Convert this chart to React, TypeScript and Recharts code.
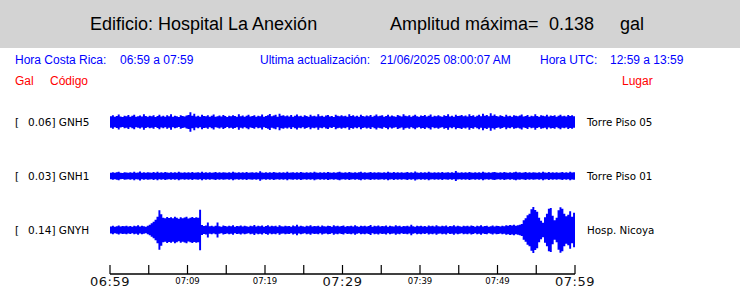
import React from 'react';
import { AreaChart, Area, XAxis, YAxis, LineChart } from 'recharts';

const STATIONS = ['GNH5', 'GNH1', 'GNYH'];
const PLACES = ['Torre Piso 05', 'Torre Piso 01', 'Hosp. Nicoya'];
const PEAKS = ['0.06', '0.03', '0.14'];

// minutes after 06:59, one tick every 5 min
const TIME_TICKS = [0, 5, 10, 15, 20, 25, 30, 35, 40, 45, 50, 55, 60];
const TICK_LABELS = ['06:59', '', '07:09', '', '07:19', '', '07:29', '', '07:39', '', '07:49', '', '07:59'];
const MAJOR_LABELS = ['06:59', '07:29', '07:59'];

const BIN_MIN = 0.25; // 15 s per bin, 240 bins

// envelope half-amplitude per bin, milligal
const GNH5 = [
  34, 40, 31, 36, 45, 33, 30, 38, 35, 42,
  32, 37, 44, 31, 35, 39, 33, 47, 36, 31,
  38, 34, 41, 30, 36, 43, 33, 37, 31, 40,
  35, 46, 32, 38, 34, 30, 41, 36, 33, 39,
  42, 58, 37, 49, 33, 38, 31, 44, 36, 34,
  40, 32, 37, 45, 31, 35, 39, 33, 42, 36,
  30, 38, 34, 41, 36, 32, 47, 35, 39, 31,
  37, 43, 33, 36, 40, 31, 38, 34, 45, 32,
  36, 41, 48, 34, 39, 44, 32, 50, 37, 41,
  35, 39, 33, 42, 31, 37, 45, 34, 38, 32,
  40, 36, 31, 43, 35, 38, 33, 46, 34, 37,
  31, 39, 42, 33, 36, 30, 44, 37, 35, 40,
  34, 38, 32, 47, 36, 41, 33, 37, 31, 43,
  36, 33, 39, 35, 42, 31, 38, 45, 34, 37,
  40, 32, 36, 44, 33, 39, 35, 31, 42, 37,
  33, 46, 38, 34, 40, 32, 37, 43, 35, 31,
  39, 36, 42, 33, 37, 45, 31, 38, 34, 41,
  35, 32, 40, 36, 47, 33, 38, 31, 44, 36,
  37, 42, 34, 39, 33, 46, 36, 41, 32, 38,
  44, 35, 49, 37, 42, 34, 52, 38, 45, 36,
  33, 40, 36, 31, 43, 35, 38, 32, 41, 37,
  34, 39, 45, 33, 36, 42, 31, 38, 35, 47,
  36, 32, 40, 37, 34, 43, 33, 39, 36, 41,
  32, 38, 44, 35, 37, 33, 42, 36, 40, 34,
];

const GNH1 = [
  20, 23, 19, 22, 26, 20, 18, 23, 21, 19,
  22, 20, 25, 19, 21, 27, 20, 23, 19, 22,
  21, 19, 24, 20, 26, 19, 22, 20, 24, 21,
  19, 23, 20, 22, 19, 25, 21, 20, 23, 19,
  22, 20, 24, 19, 21, 23, 20, 26, 19, 22,
  20, 23, 19, 21, 24, 20, 22, 19, 23, 21,
  19, 22, 20, 25, 21, 19, 23, 20, 22, 19,
  24, 20, 21, 23, 19, 22, 20, 28, 21, 19,
  23, 20, 22, 19, 24, 21, 20, 23, 19, 22,
  20, 25, 19, 21, 23, 20, 22, 19, 24, 21,
  20, 23, 19, 22, 20, 25, 21, 19, 23, 20,
  22, 19, 24, 21, 20, 23, 19, 22, 25, 21,
  19, 22, 20, 24, 21, 19, 23, 20, 22, 26,
  20, 23, 19, 21, 24, 20, 22, 19, 23, 21,
  19, 22, 20, 25, 21, 19, 24, 20, 22, 19,
  23, 20, 21, 24, 19, 22, 20, 27, 21, 19,
  22, 20, 23, 19, 25, 21, 20, 23, 19, 22,
  20, 24, 19, 21, 23, 20, 22, 19, 30, 21,
  19, 23, 20, 22, 20, 24, 21, 19, 23, 20,
  22, 19, 25, 21, 20, 23, 19, 22, 24, 21,
  20, 22, 19, 24, 21, 19, 23, 20, 22, 25,
  21, 23, 19, 21, 24, 20, 22, 19, 23, 21,
  19, 22, 20, 25, 21, 19, 24, 20, 22, 19,
  23, 20, 21, 24, 19, 22, 20, 26, 21, 23,
];

const GNYH = [
  21, 25, 20, 23, 27, 21, 24, 22, 26, 21,
  24, 20, 26, 22, 29, 21, 25, 23, 20, 26,
  32, 40, 50, 62, 80, 118, 95, 74, 70, 78,
  72, 76, 70, 79, 73, 68, 77, 71, 75, 80,
  69, 74, 78, 72, 76, 73, 122, 30, 24, 27,
  45, 22, 26, 21, 25, 45, 23, 20, 27, 24,
  21, 26, 23, 28, 20, 24, 22, 27, 21, 25,
  23, 20, 26, 22, 30, 21, 25, 23, 27, 20,
  24, 28, 21, 25, 22, 26, 20, 29, 23, 21,
  26, 22, 24, 20, 27, 23, 31, 21, 25, 22,
  20, 25, 23, 28, 21, 24, 22, 26, 20, 27,
  23, 21, 26, 24, 20, 29, 22, 25, 21, 24,
  27, 20, 24, 22, 26, 21, 28, 23, 20, 25,
  22, 26, 21, 24, 30, 20, 25, 23, 27, 21,
  24, 22, 27, 20, 25, 23, 21, 28, 22, 26,
  20, 24, 22, 26, 21, 31, 23, 20, 25, 22,
  26, 21, 24, 20, 27, 23, 25, 21, 28, 22,
  21, 25, 23, 27, 20, 24, 22, 29, 21, 26,
  23, 20, 26, 22, 25, 21, 27, 24, 20, 25,
  22, 28, 21, 24, 26, 20, 23, 27, 21, 25,
  24, 21, 26, 23, 28, 25, 30, 27, 32, 26,
  29, 31, 36, 58, 70, 88, 98, 124, 138, 120,
  110, 74, 56, 44, 76, 98, 128, 132, 86, 58,
  74, 118, 136, 128, 98, 82, 92, 112, 80, 104,
];

const TRACES = [GNH5, GNH1, GNYH];

const toRows = (amps: number[]) => {
  const rows = amps.map((a, i) => ({ t: i * BIN_MIN, band: [-a / 1000, a / 1000] }));
  rows.push({ t: amps.length * BIN_MIN, band: rows[rows.length - 1].band });
  return rows;
};

const axisRows = TIME_TICKS.map((t) => ({ t }));

const BLUE = '#0000ff';
const RED = '#ff0000';
const SANS = '"Liberation Sans", Arial, sans-serif';
const DEJAVU = '"DejaVu Sans", sans-serif';

const PLOT_LEFT = 110;
const PLOT_WIDTH = 465;
const TRACE_H = 60;
const TRACE_CENTERS = [122, 176, 230];

const TimeTick = (props: any) => {
  const { x, y, payload } = props;
  const label = TICK_LABELS[TIME_TICKS.indexOf(payload.value)];
  const major = MAJOR_LABELS.includes(label);
  return (
    <g>
      <line x1={x} x2={x} y1={y} y2={y - 9} stroke="#000" strokeWidth={1.2} />
      {label ? (
        <text
          x={x}
          y={y + (major ? 12 : 9.5)}
          textAnchor="middle"
          fontSize={major ? 13 : 8.5}
          fontFamily={DEJAVU}
          fill={major ? '#111' : '#000'}
          letterSpacing={major ? 0.5 : 0}
        >
          {label}
        </text>
      ) : null}
    </g>
  );
};

export default function App() {
  return (
    <div style={{ position: 'absolute', left: 0, top: 0, width: 740, height: 288, background: '#fff', overflow: 'hidden' }}>
      <svg width={740} height={288} style={{ position: 'absolute', left: 0, top: 0 }}>
        <rect x={0} y={0} width={740} height={48} fill="#d3d3d3" />
        <g fontFamily={SANS} fontSize={18} fill="#000">
          <text x={90} y={29.5}>Edificio: Hospital La Anexión</text>
          <text x={390} y={29.5}>Amplitud máxima=</text>
          <text x={549} y={29.5}>0.138</text>
          <text x={620} y={29.5}>gal</text>
        </g>
        <g fontFamily={SANS} fontSize={12} fill={BLUE}>
          <text x={15} y={64}>Hora Costa Rica:</text>
          <text x={120} y={64}>06:59 a 07:59</text>
          <text x={260} y={64}>Ultima actualización:</text>
          <text x={380} y={64}>21/06/2025 08:00:07 AM</text>
          <text x={540} y={64}>Hora UTC:</text>
          <text x={610} y={64}>12:59 a 13:59</text>
        </g>
        <g fontFamily={SANS} fontSize={12} fill={RED}>
          <text x={15} y={85}>Gal</text>
          <text x={50} y={85}>Código</text>
          <text x={622} y={85}>Lugar</text>
        </g>
        <g fontFamily={DEJAVU} fontSize={10.5} fill="#000">
          {STATIONS.map((s, i) => (
            <g key={s}>
              <text x={15} y={TRACE_CENTERS[i] + 4}>[</text>
              <text x={28} y={TRACE_CENTERS[i] + 4}>{`${PEAKS[i]}] ${s}`}</text>
              <text x={587} y={TRACE_CENTERS[i] + 4} fontSize={10.3}>{PLACES[i]}</text>
            </g>
          ))}
        </g>
      </svg>

      {TRACES.map((amps, i) => (
        <div
          key={STATIONS[i]}
          style={{ position: 'absolute', left: PLOT_LEFT, top: TRACE_CENTERS[i] - TRACE_H / 2, width: PLOT_WIDTH, height: TRACE_H }}
        >
          <AreaChart width={PLOT_WIDTH} height={TRACE_H} data={toRows(amps)} margin={{ top: 0, right: 0, bottom: 0, left: 0 }}>
            <XAxis dataKey="t" type="number" domain={[0, 60]} hide />
            <YAxis type="number" domain={[-0.18, 0.18]} hide allowDataOverflow />
            <Area
              dataKey="band"
              type="stepAfter"
              stroke="none"
              fill={BLUE}
              fillOpacity={1}
              isAnimationActive={false}
            />
          </AreaChart>
        </div>
      ))}

      <div style={{ position: 'absolute', left: PLOT_LEFT - 50, top: 250, width: PLOT_WIDTH + 100, height: 38 }}>
        <LineChart width={PLOT_WIDTH + 100} height={38} data={axisRows} margin={{ top: 0, right: 50, bottom: 0, left: 50 }}>
          <XAxis
            dataKey="t"
            type="number"
            domain={[0, 60]}
            ticks={TIME_TICKS}
            interval={0}
            height={14}
            tickSize={0}
            tickMargin={0}
            tickLine={false}
            axisLine={{ stroke: '#000', strokeWidth: 1.5 }}
            tick={<TimeTick />}
          />
          <YAxis hide />
        </LineChart>
      </div>
    </div>
  );
}
